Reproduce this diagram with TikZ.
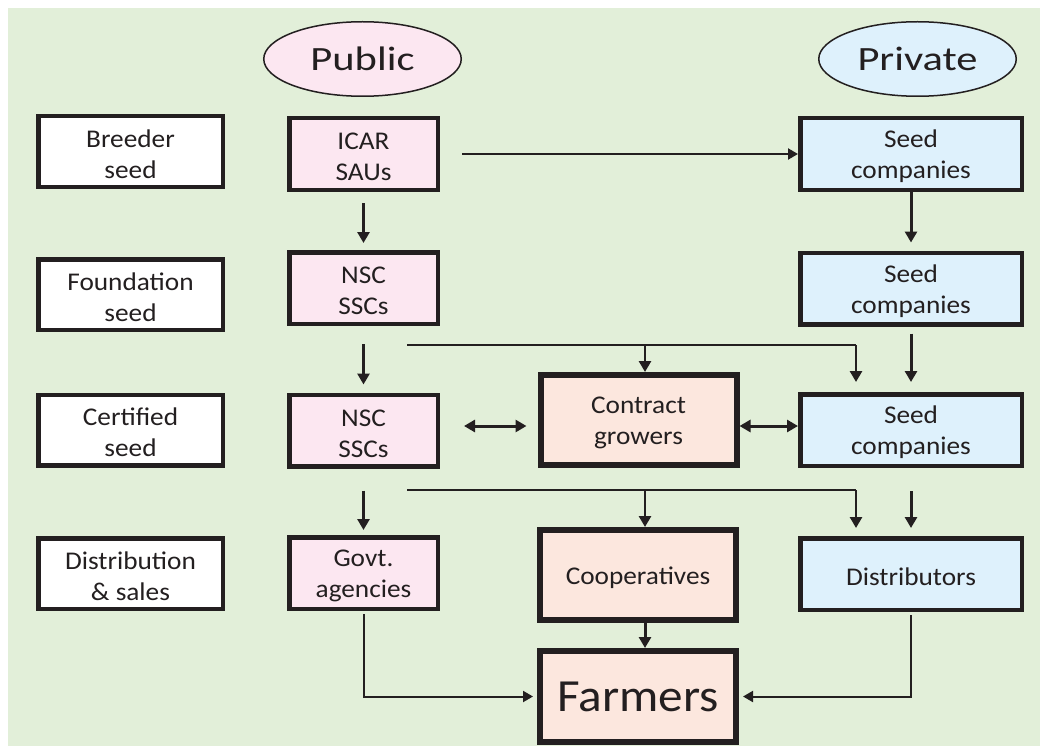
\documentclass[tikz,border=0pt]{standalone}
\usepackage{fontspec}
\setmainfont{Carlito}
\newfontfamily\bodyfont{Carlito}[FakeStretch=1.07]
\newfontfamily\headfont{Carlito}[FakeStretch=1.25]
\usetikzlibrary{shapes.geometric,arrows.meta}
\definecolor{ink}{RGB}{35,31,32}
\definecolor{bgG}{RGB}{226,239,217}
\definecolor{pinkF}{RGB}{252,231,241}
\definecolor{blueF}{RGB}{222,241,252}
\definecolor{peachF}{RGB}{252,231,222}
\tikzset{
  boxtxt/.style={text=ink, align=center, inner sep=0pt, execute at begin node={\rule{0pt}{23.5pt}}, font=\bodyfont\fontsize{25.5}{31}\selectfont},
  twoline/.style={text height=54pt},
  stage/.style={boxtxt, twoline, draw=ink, line width=4.5pt, fill=white, minimum width=184.5pt, minimum height=70.5pt},
  pub/.style={boxtxt, twoline, draw=ink, line width=4.5pt, fill=pinkF, minimum width=148.5pt, minimum height=71.5pt},
  priv/.style={boxtxt, draw=ink, line width=4.5pt, fill=blueF, minimum width=221.5pt, minimum height=71.5pt},
  mid/.style={boxtxt, draw=ink, line width=6pt, fill=peachF, minimum width=196pt, minimum height=90pt},
  bigmid/.style={text=ink, align=center, inner sep=0pt, draw=ink, line width=6pt, fill=peachF, minimum width=196pt, minimum height=91pt, font=\bodyfont\fontsize{46}{50}\selectfont},
  head/.style={ellipse, draw=ink, line width=1.5pt, minimum width=197.5pt, minimum height=74.5pt, inner sep=0pt, text=ink, font=\headfont\fontsize{34}{40}\selectfont},
  arr/.style={draw=ink, line width=3pt, -{Triangle[length=11pt,width=12pt]}},
  dbl/.style={draw=ink, line width=3pt, {Triangle[length=11pt,width=12pt]}-{Triangle[length=11pt,width=12pt]}},
  thinarr/.style={draw=ink, line width=2pt, -{Triangle[length=10pt,width=11pt]}},
  thinline/.style={draw=ink, line width=2pt},
  droparr/.style={draw=ink, line width=2.7pt, -{Triangle[length=11pt,width=12pt]}}
}
\begin{document}
\begin{tikzpicture}[x=1pt,y=-1pt]
\useasboundingbox (0,0) rectangle (1040,746);
\fill[bgG] (8,8) rectangle (1040,746);

% headers
\node[head, fill=pinkF] (public) at (362.5,59) {Public};
\node[head, fill=blueF] (private) at (917.5,59) {Private};

% stage labels
\node[stage] (breeder) at (130.5,151.5) {Breeder\\seed};
\node[stage] (foundation) at (130.5,294.5) {Foundation\\seed};
\node[stage] (certified) at (130.5,430) {Certified\\seed};
\node[stage] (distribution) at (130.5,573.5) {Distribution\\\& sales};

% public column
\node[pub] (icar) at (363.5,154) {ICAR\\SAUs};
\node[pub] (nsc1) at (363.5,288) {NSC\\SSCs};
\node[pub] (nsc2) at (363.5,430.5) {NSC\\SSCs};
\node[pub] (govt) at (363.5,573) {Govt.\\agencies};

% private column
\node[priv, twoline] (seed1) at (911,154) {Seed\\companies};
\node[priv, twoline] (seed2) at (911,288.5) {Seed\\companies};
\node[priv, twoline] (seed3) at (911,430) {Seed\\companies};
\node[priv] (dist) at (911,574) {Distributors};

% middle
\node[mid, twoline] (contract) at (638.5,420) {Contract\\growers};
\node[mid] (coop) at (638,575) {Cooperatives};
\node[bigmid] (farmers) at (638,696.5) {Farmers};

% branch coordinates
\coordinate (b1) at (407,345);
\coordinate (c1) at (645,345);
\coordinate (b1e) at (856,345);
\coordinate (b2) at (407,490);
\coordinate (c2) at (645,490);
\coordinate (b2e) at (856,490);
\coordinate (da) at (0,426);

% connectors
\draw[thinarr, shorten <=22pt] (icar.east) -- (seed1.west);
\draw[arr, shorten <=11pt, shorten >=7pt] (icar.south) -- (nsc1.north);
\draw[arr, shorten >=8pt] (seed1.south) -- (seed2.north);
\draw[arr, shorten <=18pt, shorten >=8pt] (nsc1.south) -- (nsc2.north);
\draw[arr, shorten <=7pt, shorten >=10pt] (seed2.south) -- (seed3.north);
\draw[thinline] (b1) -- (b1e);
\draw[droparr] (c1) -- (c1 |- contract.north);
\draw[droparr, shorten >=10pt] (b1e) -- (b1e |- seed3.north);

\draw[dbl, shorten <=24pt, shorten >=11pt] (nsc2.east |- da) -- (contract.west |- da);
\draw[dbl] (contract.east |- da) -- (seed3.west |- da);

\draw[arr, shorten <=22pt, shorten >=5pt] (nsc2.south) -- (govt.north);
\draw[arr, shorten <=23pt, shorten >=8pt] (seed3.south) -- (dist.north);
\draw[thinline] (b2) -- (b2e);
\draw[droparr] (c2) -- (c2 |- coop.north);
\draw[droparr, shorten >=8pt] (b2e) -- (b2e |- dist.north);

\draw[thinarr, shorten <=3pt, shorten >=4pt] (govt.south) |- (farmers.west);
\draw[thinarr, shorten <=3pt, shorten >=4pt] (dist.south) |- (farmers.east);
\draw[arr] (c2 |- coop.south) -- (c2 |- farmers.north);
\end{tikzpicture}
\end{document}
